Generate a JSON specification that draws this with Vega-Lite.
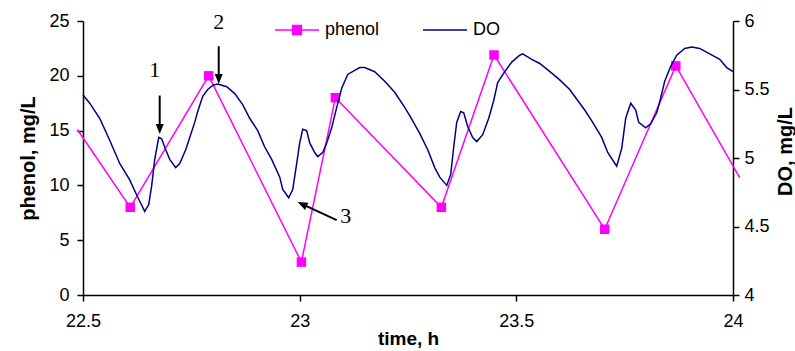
{
  "$schema": "https://vega.github.io/schema/vega-lite/v6.json",
  "width": 650,
  "height": 274,
  "autosize": {"type": "none"},
  "padding": {"left": 83, "top": 21, "right": 62, "bottom": 56},
  "background": "white",
  "config": {
    "view": {"stroke": null},
    "font": "Liberation Sans",
    "axis": {
      "domainColor": "black", "tickColor": "black", "labelColor": "black", "titleColor": "black",
      "grid": false, "labelFont": "Liberation Sans", "titleFont": "Liberation Sans",
      "labelFontSize": 18, "titleFontSize": 20, "titleFontWeight": "bold",
      "tickSize": 6, "domainWidth": 1.5, "tickWidth": 1.5, "labelFlush": false
    }
  },
  "datasets": {
    "phenol": [
      {"t": 22.487, "phenol": 15.1},
      {"t": 22.609, "phenol": 8.0},
      {"t": 22.790, "phenol": 20.0},
      {"t": 23.004, "phenol": 3.0},
      {"t": 23.0825, "phenol": 18.0},
      {"t": 23.327, "phenol": 8.0},
      {"t": 23.4485, "phenol": 21.9},
      {"t": 23.704, "phenol": 6.0},
      {"t": 23.868, "phenol": 20.9},
      {"t": 24.0155, "phenol": 10.7}
    ],
    "do": [
      {"t": 22.5, "DO": 5.46}, {"t": 22.5155, "DO": 5.40}, {"t": 22.5385, "DO": 5.29}, {"t": 22.5616, "DO": 5.13},
      {"t": 22.5847, "DO": 4.96}, {"t": 22.6078, "DO": 4.84}, {"t": 22.6239, "DO": 4.73}, {"t": 22.6332, "DO": 4.67},
      {"t": 22.6424, "DO": 4.61}, {"t": 22.6517, "DO": 4.66}, {"t": 22.6586, "DO": 4.80}, {"t": 22.6655, "DO": 4.99},
      {"t": 22.6748, "DO": 5.15}, {"t": 22.6816, "DO": 5.14}, {"t": 22.6909, "DO": 5.06}, {"t": 22.7001, "DO": 4.99},
      {"t": 22.7139, "DO": 4.93}, {"t": 22.7232, "DO": 4.96}, {"t": 22.7370, "DO": 5.06}, {"t": 22.7463, "DO": 5.15},
      {"t": 22.7578, "DO": 5.26}, {"t": 22.7647, "DO": 5.34}, {"t": 22.7763, "DO": 5.45}, {"t": 22.7878, "DO": 5.50},
      {"t": 22.7993, "DO": 5.53}, {"t": 22.8109, "DO": 5.54}, {"t": 22.8316, "DO": 5.52}, {"t": 22.8501, "DO": 5.47},
      {"t": 22.8685, "DO": 5.39}, {"t": 22.8847, "DO": 5.29}, {"t": 22.9032, "DO": 5.20}, {"t": 22.9193, "DO": 5.08},
      {"t": 22.9355, "DO": 4.99}, {"t": 22.9540, "DO": 4.86}, {"t": 22.9609, "DO": 4.77}, {"t": 22.9747, "DO": 4.71},
      {"t": 22.9840, "DO": 4.77}, {"t": 22.9932, "DO": 4.96}, {"t": 23.0001, "DO": 5.11}, {"t": 23.0070, "DO": 5.21},
      {"t": 23.0162, "DO": 5.20}, {"t": 23.0232, "DO": 5.11}, {"t": 23.0347, "DO": 5.04}, {"t": 23.0416, "DO": 5.01},
      {"t": 23.0532, "DO": 5.04}, {"t": 23.0624, "DO": 5.11}, {"t": 23.0739, "DO": 5.22}, {"t": 23.0832, "DO": 5.34},
      {"t": 23.0970, "DO": 5.51}, {"t": 23.1109, "DO": 5.61}, {"t": 23.1270, "DO": 5.64}, {"t": 23.1386, "DO": 5.66},
      {"t": 23.1501, "DO": 5.66}, {"t": 23.1732, "DO": 5.63}, {"t": 23.1963, "DO": 5.56}, {"t": 23.2193, "DO": 5.48},
      {"t": 23.2424, "DO": 5.37}, {"t": 23.2540, "DO": 5.31}, {"t": 23.2770, "DO": 5.18}, {"t": 23.2955, "DO": 5.06},
      {"t": 23.3117, "DO": 4.93}, {"t": 23.3232, "DO": 4.86}, {"t": 23.3394, "DO": 4.80}, {"t": 23.3486, "DO": 4.88},
      {"t": 23.3555, "DO": 5.08}, {"t": 23.3624, "DO": 5.26}, {"t": 23.3717, "DO": 5.34}, {"t": 23.3786, "DO": 5.33},
      {"t": 23.3878, "DO": 5.23}, {"t": 23.3993, "DO": 5.15}, {"t": 23.4086, "DO": 5.12}, {"t": 23.4224, "DO": 5.17},
      {"t": 23.4363, "DO": 5.29}, {"t": 23.4478, "DO": 5.42}, {"t": 23.4570, "DO": 5.55}, {"t": 23.4732, "DO": 5.63},
      {"t": 23.4894, "DO": 5.70}, {"t": 23.5078, "DO": 5.75}, {"t": 23.5147, "DO": 5.76}, {"t": 23.5355, "DO": 5.72},
      {"t": 23.5540, "DO": 5.69}, {"t": 23.5817, "DO": 5.62}, {"t": 23.6001, "DO": 5.57}, {"t": 23.6232, "DO": 5.50},
      {"t": 23.6416, "DO": 5.42}, {"t": 23.6578, "DO": 5.35}, {"t": 23.6762, "DO": 5.26}, {"t": 23.6970, "DO": 5.15},
      {"t": 23.7109, "DO": 5.04}, {"t": 23.7316, "DO": 4.94}, {"t": 23.7432, "DO": 5.07}, {"t": 23.7524, "DO": 5.29},
      {"t": 23.7640, "DO": 5.40}, {"t": 23.7755, "DO": 5.35}, {"t": 23.7824, "DO": 5.26}, {"t": 23.7986, "DO": 5.22},
      {"t": 23.8101, "DO": 5.25}, {"t": 23.8240, "DO": 5.33}, {"t": 23.8309, "DO": 5.41}, {"t": 23.8424, "DO": 5.56},
      {"t": 23.8563, "DO": 5.67}, {"t": 23.8701, "DO": 5.75}, {"t": 23.8886, "DO": 5.80}, {"t": 23.9047, "DO": 5.81},
      {"t": 23.9232, "DO": 5.80}, {"t": 23.9463, "DO": 5.76}, {"t": 23.9694, "DO": 5.72}, {"t": 23.9855, "DO": 5.66},
      {"t": 24.0, "DO": 5.63}
    ],
    "labels": [
      {"t": 22.6655, "phenol": 20.5, "label": "1"},
      {"t": 22.8132, "phenol": 24.9, "label": "2"},
      {"t": 23.1063, "phenol": 7.2, "label": "3"}
    ],
    "arrows": [
      {"t": 22.677, "t2": 22.677, "phenol": 18.2, "phenol2": 15.2},
      {"t": 22.8132, "t2": 22.8132, "phenol": 22.7, "phenol2": 19.7},
      {"t": 23.0855, "t2": 23.0058, "phenol": 6.84, "phenol2": 8.29}
    ],
    "heads": [
      {"t": 22.677, "phenol": 15.15, "arrow": "1"},
      {"t": 22.8132, "phenol": 19.71, "arrow": "2"},
      {"t": 23.0058, "phenol": 8.29, "arrow": "3"}
    ]
  },
  "encoding": {
    "x": {
      "field": "t", "type": "quantitative",
      "scale": {"domain": [22.5, 24], "nice": false, "zero": false},
      "axis": {"title": "time, h", "titleFontSize": 19, "values": [22.5, 23, 23.5, 24], "labelExpr": "'' + datum.value", "labelPadding": 11, "titlePadding": -1}
    }
  },
  "layer": [
    {
      "encoding": {
        "y": {
          "field": "phenol", "type": "quantitative",
          "scale": {"domain": [0, 25], "nice": false},
          "axis": {"title": "phenol, mg/L", "values": [0, 5, 10, 15, 20, 25], "labelPadding": 8, "titlePadding": 10}
        }
      },
      "layer": [
        {
          "data": {"name": "phenol"},
          "mark": {"type": "line", "strokeWidth": 1.5, "clip": false},
          "encoding": {
            "color": {
              "datum": "phenol",
              "scale": {"domain": ["phenol", "DO"], "range": ["#FF00FF", "#000080"]},
              "legend": {
                "title": null, "orient": "none", "legendX": 191, "legendY": -14, "direction": "horizontal",
                "symbolSize": 1936, "symbolStrokeWidth": 1.5, "labelFontSize": 18, "labelFont": "Liberation Sans",
                "labelColor": "black", "labelOffset": 5, "columnPadding": 40,
                "encode": {
                  "symbols": {
                    "update": {
                      "shape": {"signal": "datum.value === 'phenol' ? 'M-1,0H1M-0.2,-0.2H0.2V0.2H-0.2Z' : 'M-1,0H1'"},
                      "fill": {"signal": "datum.value === 'phenol' ? '#FF00FF' : 'transparent'"}
                    }
                  }
                }
              }
            }
          }
        },
        {
          "data": {"name": "phenol"},
          "transform": [{"filter": "datum.t >= 22.5 && datum.t <= 24"}],
          "mark": {"type": "point", "shape": "square", "filled": true, "size": 90, "color": "#FF00FF", "opacity": 1}
        },
        {
          "data": {"name": "arrows"},
          "mark": {"type": "rule", "color": "black", "strokeWidth": 2},
          "encoding": {"x2": {"field": "t2"}, "y2": {"field": "phenol2"}}
        },
        {
          "data": {"name": "heads"},
          "transform": [{"filter": "datum.arrow !== '3'"}],
          "mark": {"type": "point", "shape": "M-0.8,-1L0.8,-1L0,1Z", "filled": true, "color": "black", "size": 100, "opacity": 1}
        },
        {
          "data": {"name": "heads"},
          "transform": [{"filter": "datum.arrow === '3'"}],
          "mark": {"type": "point", "shape": "M-0.8,-1L0.8,-1L0,1Z", "filled": true, "color": "black", "size": 100, "opacity": 1, "angle": 115}
        },
        {
          "data": {"name": "labels"},
          "mark": {"type": "text", "font": "Liberation Serif", "fontSize": 22, "color": "black", "baseline": "middle", "align": "center"},
          "encoding": {"text": {"field": "label"}}
        }
      ]
    },
    {
      "data": {"name": "do"},
      "mark": {"type": "line", "strokeWidth": 1.5, "color": "#000080"},
      "encoding": {
        "y": {
          "field": "DO", "type": "quantitative",
          "scale": {"domain": [4, 6], "nice": false, "zero": false},
          "axis": {"title": "DO, mg/L", "orient": "right", "values": [4, 4.5, 5, 5.5, 6], "labelExpr": "'' + datum.value", "labelPadding": 5, "titleAngle": 270, "titleX": 52, "titleY": 130, "titleAlign": "center", "titleBaseline": "middle"}
        },
        "color": {"datum": "DO"}
      }
    }
  ],
  "resolve": {"scale": {"y": "independent"}}
}
